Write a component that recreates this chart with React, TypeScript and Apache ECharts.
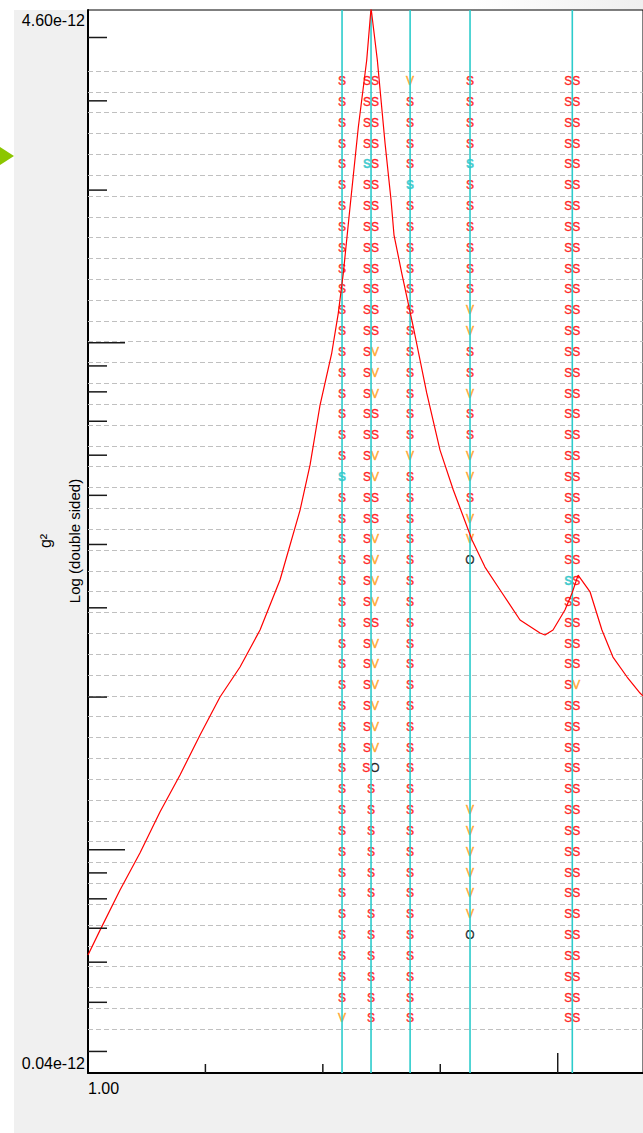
import React, { useEffect, useRef } from "react";
import * as echarts from "echarts";

// ---- axis ranges ----
const X_MIN = 1;
const X_MAX = 15.19;
const Y_MIN = 0.03627; // units of 1e-12 g^2
const Y_MAX = 4.532;
const ROW_MIN = -2.914;
const ROW_MAX = 48.12;

// ---- axis text ----
const yTopLabel = "4.60e-12";
const yBottomLabel = "0.04e-12";
const xLeftLabel = "1.00";
const yTitle = "Log (double sided)";
const yUnit = "g\u00b2";

// ---- ticks ----
const yMajorTicks = [0.1, 1];
const yMinorTicks = [0.04, 0.05, 0.06, 0.07, 0.08, 0.09, 0.2, 0.3, 0.4, 0.5, 0.6, 0.7, 0.8, 0.9, 2, 3, 4];
const xMajorTicks = [10];
const xMinorTicks = [1.778, 3.162, 5.623];

// ---- spectrum curve ----
const curveX = [1.0, 1.061, 1.17, 1.29, 1.423, 1.57, 1.732, 1.91, 2.107, 2.324, 2.563, 2.828, 2.97, 3.119, 3.303, 3.411, 3.496, 3.613, 3.763, 3.921, 4.005, 4.13, 4.289, 4.417, 4.482, 4.655, 4.927, 5.261, 5.616, 5.994, 6.57, 7.001, 7.539, 8.313, 9.169, 9.396, 9.772, 10.36, 10.73, 11.05, 11.72, 12.42, 13.11, 14.05, 14.97, 15.72];
const curveY = [0.062, 0.0694, 0.0833, 0.0985, 0.1187, 0.1404, 0.1684, 0.2001, 0.2293, 0.2713, 0.3404, 0.4677, 0.574, 0.7536, 0.9543, 1.144, 1.372, 1.852, 2.664, 3.611, 4.573, 3.611, 2.477, 1.912, 1.631, 1.372, 1.074, 0.7959, 0.6141, 0.5123, 0.4083, 0.361, 0.3253, 0.2838, 0.2676, 0.2652, 0.2713, 0.2971, 0.3209, 0.3481, 0.3224, 0.2713, 0.2399, 0.2191, 0.2037, 0.1947];

// ---- marker columns (frequency) ----
const markerX = [3.474, 4.0045, 4.85, 6.506, 10.741];

// ---- row lines of the letter grid ----
const rowLines = [0, 1, 2, 3, 4, 5, 6, 7, 8, 9, 10, 11, 12, 13, 14, 15, 16, 17, 18, 19, 20, 21, 22, 23, 24, 25, 26, 27, 28, 29, 30, 31, 32, 33, 34, 35, 36, 37, 38, 39, 40, 41, 42, 43, 44, 45, 46];

// letter codes per row, top to bottom: s = red S, c = cyan S, v = orange V, o = black O, - = none
const colA = "s s s s s s s s s s s s s s s s s s s c s s s s s s s s s s s s s s s s s s s s s s s s s v";
const colB = "ss ss ss ss cs ss ss ss ss ss ss ss ss sv sv sv ss ss sv sv ss ss sv sv sv sv ss sv sv sv sv sv sv so s s s s s s s s s s s s";
const colC = "v s s s s c s s s s s s s s s s s s v s s s s s s s s s s s s s s s s s s s s s s s s s s s";
const colD = "s s s s c s s s s s s v v s s v s s v v s v v o - - - - - - - - - - - v v v v v v o - - - -";
const colE = "ss ss ss ss ss ss ss ss ss ss ss ss ss ss ss ss ss ss ss ss ss ss ss ss cs ss ss ss ss sv ss ss ss ss ss ss ss ss ss ss ss ss ss ss ss ss";
const columns = [colA, colB, colC, colD, colE];

const FONT = "'Liberation Sans', Arial, Helvetica, sans-serif";

const letterData: any[] = [];
columns.forEach((col, ci) => {
  col.split(" ").forEach((code, ri) => {
    if (code !== "-") letterData.push([markerX[ci], ri + 0.5, code]);
  });
});

const richMap: Record<string, string> = { s: "{s|S}", c: "{c|S}", v: "{v|V}", o: "{o|O}" };

export default function App() {
  const ref = useRef<HTMLDivElement>(null);
  useEffect(() => {
    const chart = echarts.init(ref.current!, null, { renderer: "svg" });
    const option: any = {
      animation: false,
      backgroundColor: "#f0f0f0",
      grid: {
        left: 88,
        top: 10,
        right: 0,
        bottom: 60,
        show: true,
        backgroundColor: "#ffffff",
        borderColor: "#000000",
        borderWidth: 1,
      },
      xAxis: [
        {
          type: "log",
          min: X_MIN,
          max: X_MAX,
          axisLine: { show: true, onZero: false, lineStyle: { color: "#000", width: 2 } },
          axisTick: { show: false },
          axisLabel: { show: false },
          splitLine: { show: false },
        },
      ],
      yAxis: [
        {
          type: "log",
          min: Y_MIN,
          max: Y_MAX,
          axisLine: { show: true, onZero: false, lineStyle: { color: "#000", width: 2 } },
          axisTick: { show: false },
          axisLabel: { show: false },
          splitLine: { show: false },
        },
        {
          type: "value",
          min: ROW_MIN,
          max: ROW_MAX,
          inverse: true,
          show: false,
          axisLine: { show: false, onZero: false },
          splitLine: { show: false },
        },
      ],
      graphic: [
        { type: "rect", z: -10, shape: { x: 0, y: 0, width: 14, height: 1133 }, style: { fill: "#ffffff" } },
        {
          type: "rect",
          z: -10,
          shape: { x: 14, y: 0, width: 629, height: 10 },
          style: {
            fill: {
              type: "linear", x: 0, y: 0, x2: 1, y2: 0,
              colorStops: [
                { offset: 0, color: "#ffffff" },
                { offset: 0.72, color: "#ffffff" },
                { offset: 1, color: "#efefef" },
              ],
            },
          },
        },
        { type: "polygon", shape: { points: [[0, 147], [14, 156], [0, 165]] }, style: { fill: "#8cc600" } },
        { type: "text", x: 85, y: 20, style: { text: yTopLabel, align: "right", verticalAlign: "middle", font: `16px ${FONT}`, fill: "#000" } },
        { type: "text", x: 85, y: 1063, style: { text: yBottomLabel, align: "right", verticalAlign: "middle", font: `16px ${FONT}`, fill: "#000" } },
        { type: "text", x: 88, y: 1088, style: { text: xLeftLabel, align: "left", verticalAlign: "middle", font: `16px ${FONT}`, fill: "#000" } },
        { type: "text", x: 74, y: 541, rotation: Math.PI / 2, style: { text: yTitle, align: "center", verticalAlign: "middle", font: `15px ${FONT}`, fill: "#000" } },
        { type: "text", x: 45, y: 541, rotation: Math.PI / 2, style: { text: yUnit, align: "center", verticalAlign: "middle", font: `16px ${FONT}`, fill: "#000" } },
      ],
      series: [
        {
          type: "custom",
          name: "rows",
          xAxisIndex: 0,
          yAxisIndex: 1,
          z: 1,
          silent: true,
          clip: false,
          data: rowLines.map((r) => [X_MIN, r]),
          renderItem: (params: any, api: any) => {
            const p = api.coord([api.value(0), api.value(1)]);
            const cs = params.coordSys;
            return {
              type: "line",
              shape: { x1: cs.x, y1: Math.round(p[1]) + 0.5, x2: cs.x + cs.width, y2: Math.round(p[1]) + 0.5 },
              style: { stroke: "#c0c0c0", lineWidth: 1, lineDash: [5, 3] },
            };
          },
        },
        {
          type: "scatter",
          name: "markers",
          xAxisIndex: 0,
          yAxisIndex: 1,
          z: 2,
          silent: true,
          symbolSize: 0,
          data: letterData,
          label: {
            show: true,
            position: "inside",
            formatter: (p: any) => String(p.value[2]).split("").map((c) => richMap[c]).join(""),
            rich: {
              s: { color: "#ff0000", fontSize: 12, fontFamily: FONT, textBorderColor: "#ff2020", textBorderWidth: 0.5 },
              c: { color: "#16c0c4", fontSize: 12, fontFamily: FONT, fontWeight: "bold", textBorderColor: "#16c0c4", textBorderWidth: 0.3 },
              v: { color: "#ff9a10", fontSize: 12, fontFamily: FONT, textBorderColor: "#ff9a10", textBorderWidth: 0.5 },
              o: { color: "#000000", fontSize: 12, fontFamily: FONT, textBorderColor: "#000000", textBorderWidth: 0.3 },
            },
          },
        },
        {
          type: "custom",
          name: "markerLines",
          xAxisIndex: 0,
          yAxisIndex: 0,
          z: 3,
          silent: true,
          data: markerX.map((x) => [x, Y_MIN]),
          renderItem: (params: any, api: any) => {
            const p = api.coord([api.value(0), api.value(1)]);
            const cs = params.coordSys;
            return {
              type: "line",
              shape: { x1: p[0], y1: cs.y, x2: p[0], y2: cs.y + cs.height },
              style: { stroke: "#2ccccc", lineWidth: 1.6 },
            };
          },
        },
        {
          type: "line",
          name: "PSD",
          xAxisIndex: 0,
          yAxisIndex: 0,
          z: 4,
          silent: true,
          symbol: "none",
          data: curveX.map((x, i) => [x, curveY[i]]),
          lineStyle: { color: "#ff0000", width: 1.2 },
        },
        {
          type: "custom",
          name: "yTicks",
          xAxisIndex: 0,
          yAxisIndex: 0,
          z: 5,
          silent: true,
          clip: false,
          data: [...yMajorTicks.map((v) => [X_MIN, v, 37]), ...yMinorTicks.map((v) => [X_MIN, v, 19])],
          renderItem: (params: any, api: any) => {
            const p = api.coord([api.value(0), api.value(1)]);
            const len = api.value(2);
            return {
              type: "line",
              shape: { x1: p[0], y1: p[1], x2: p[0] + len, y2: p[1] },
              style: { stroke: "#1a1a1a", lineWidth: 1.5 },
            };
          },
        },
        {
          type: "custom",
          name: "xTicks",
          xAxisIndex: 0,
          yAxisIndex: 0,
          z: 5,
          silent: true,
          clip: false,
          data: [...xMajorTicks.map((v) => [v, Y_MIN, 20]), ...xMinorTicks.map((v) => [v, Y_MIN, 9])],
          renderItem: (params: any, api: any) => {
            const p = api.coord([api.value(0), api.value(1)]);
            const len = api.value(2);
            return {
              type: "line",
              shape: { x1: p[0], y1: p[1], x2: p[0], y2: p[1] - len },
              style: { stroke: "#1a1a1a", lineWidth: 1.5 },
            };
          },
        },
      ],
    };
    chart.setOption(option);
    return () => chart.dispose();
  }, []);
  return <div ref={ref} style={{ position: "fixed", left: 0, top: 0, width: 643, height: 1133 }} />;
}
